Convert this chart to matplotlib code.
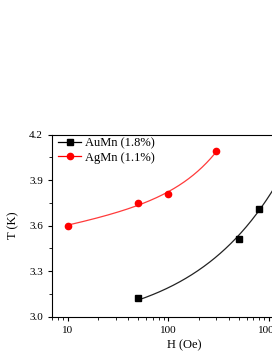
import numpy as np
import matplotlib.pyplot as plt
from matplotlib.ticker import AutoMinorLocator

plt.rcParams['font.family'] = ['Liberation Serif', 'DejaVu Serif']

# data (last AuMn point lies outside the cropped view)
au_h = [50, 500, 800, 1500]
au_t = [3.12, 3.51, 3.71, 4.00]
ag_h = [10, 50, 100, 300]
ag_t = [3.60, 3.75, 3.81, 4.09]

fig = plt.figure(figsize=(2.72, 3.52), dpi=100)
ax = fig.add_axes([52 / 272, 0.1003, 265 / 272, 0.517])

# AuMn: fitted line T = a + b*sqrt(H)
p = np.polyfit(np.sqrt(au_h), au_t, 1)
hh = np.logspace(np.log10(au_h[0]), np.log10(au_h[-1]), 200)
ax.plot(hh, np.polyval(p, np.sqrt(hh)), color='#222222', lw=0.9)

# AgMn: fit T = a + b*log10(H) + c*H
h2 = np.asarray(ag_h, float)
M = np.column_stack([np.ones_like(h2), np.log10(h2), h2])
coef = np.linalg.lstsq(M, np.asarray(ag_t), rcond=None)[0]
hh2 = np.logspace(np.log10(ag_h[0]), np.log10(ag_h[-1]), 200)
ax.plot(hh2, coef[0] + coef[1] * np.log10(hh2) + coef[2] * hh2,
        color='#ff3b3b', lw=0.9)

ax.plot(au_h, au_t, 's', color='black', ms=4)
ax.plot(ag_h, ag_t, 'o', color='red', ms=4.5)

# legend handles
ax.plot([], [], 's-', color='black', ms=4, lw=0.9, label='AuMn (1.8%)')
ax.plot([], [], 'o-', color='red', ms=4.5, lw=0.9, label='AgMn (1.1%)')
ax.legend(loc='upper left', bbox_to_anchor=(0.012, 1.0), frameon=False,
          fontsize=9, handlelength=1.9, borderaxespad=0.0, borderpad=0.2,
          labelspacing=0.2, handletextpad=0.3)

ax.set_xscale('log')
ax.set_xlim(7, 3000)
ax.set_ylim(3.0, 4.2)
ax.set_yticks([3.0, 3.3, 3.6, 3.9, 4.2])
ax.yaxis.set_minor_locator(AutoMinorLocator(2))
ax.tick_params(labelsize=8, direction='out', length=3, width=0.8)
ax.tick_params(which='minor', direction='out', length=2, width=0.6)
ax.set_xticks([10, 100, 1000])
ax.set_xticklabels(['10', '100', '1000'])
ax.set_xlabel('H (Oe)', fontsize=9, labelpad=3)
ax.set_ylabel('T (K)', fontsize=9, labelpad=7)

plt.savefig('out.png', dpi=100)
